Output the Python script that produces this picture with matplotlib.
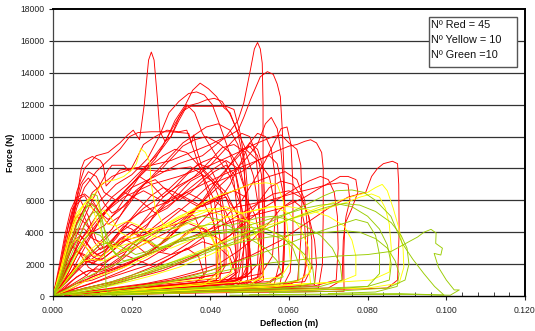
import numpy as np
import matplotlib
matplotlib.use("Agg")
import matplotlib.pyplot as plt
from matplotlib.patches import Rectangle

# ---- data: (deflection in mm, force in kN) ----
red01 = [(0,0),(2,1.5),(4,4),(6,6.5),(8,8),(11,8.8),(14,9),(17,9.6),(19,10.1),(20.4,10.4),(21.2,10.1),(22,9.8),(23.2,12),(24.3,14.8),(25,15.3),(25.7,14.8),(26.5,12.5),(27.2,10.3),(28.5,9.7),(30,10),(32,11.2),(34,12),(36,11.5),(38,10.2),(41,9),(45,7.5),(48,5.5),(50,3),(50.5,1),(47,0.6),(38,0.45),(25,0.3),(10,0.12)]
red02 = [(0,0),(3,2),(6,4.5),(10,6.5),(15,7.5),(20,8),(25,8.2),(30,8.5),(35,9),(40,9.5),(44,10),(47,11),(48.5,12.1),(50.2,14.2),(51.2,15.5),(52,15.9),(52.7,15.5),(53.2,14.6),(53.4,12),(53.4,6),(53.5,1),(50,0.6),(40,0.4),(25,0.25),(8,0.1)]
red03 = [(0,0),(4,1.5),(8,3.5),(14,5.5),(20,6.8),(26,7.5),(32,8.3),(38,8.8),(43,9.8),(47.1,10.4),(48.5,11.2),(50.2,12.3),(52.7,13.75),(54.5,14.07),(56,13.9),(57,13.3),(57.8,12.5),(58.3,10.4),(58.7,8),(59,5),(58.7,2),(57.5,0.5),(48,0.35),(30,0.2),(12,0.1)]
red04 = [(0,0),(3,1),(6,2.5),(10,4),(14,5.5),(18,6.5),(22,7.5),(26,8.6),(28.8,9.8),(31,11),(33.7,12),(35.5,12.9),(37.4,13.35),(39.5,13),(41.6,12.5),(43.5,11.8),(45,11.5),(47,10.2),(48.5,8.5),(49,6),(48.5,3),(47,1),(43,0.7),(30,0.45),(15,0.2),(4,0.05)]
red05 = [(0,0),(2,0.8),(5,2.5),(8,4.5),(12,6),(16,7),(20,7.6),(24,8.6),(27,10),(29.5,11.5),(32,12.2),(34.5,12.7),(36.5,12.8),(38.5,12.6),(40.5,12),(42,11),(44,9.6),(46,8.2),(47.5,6.5),(48,4),(47,1.5),(44,0.9),(35,0.6),(20,0.35),(6,0.1)]
red06 = [(0,0),(3,1.5),(7,3.5),(11,5),(15,6.2),(19,7),(23,8),(27,9),(30,10),(32,11),(34,11.9),(37,12.1),(39,12.3),(41,12.4),(43,12.2),(45,11.4),(47,10.3),(49,9.2),(52,8.5),(55,7.5),(57,5),(57.5,2),(56,0.5),(45,0.4),(28,0.25),(10,0.1)]
red07 = [(0,0),(4,1.2),(8,3),(12,4.8),(16,6),(20,7),(24,8.2),(28,9.5),(31,10.8),(33,11.6),(35,11.9),(40,11.9),(44,11.9),(46,11.7),(47.6,10.2),(49,8),(50,5),(49.5,2),(47,0.6),(36,0.45),(20,0.25),(6,0.1)]
red08 = [(0,0),(2,1.5),(4,3.5),(6,5.5),(8,6.8),(11,7.8),(14,8.5),(17,9.2),(19.5,10),(21.6,10.25),(25,10.3),(30,10.3),(34.5,10.2),(35.2,9.6),(35.8,10.1),(36.5,9.2),(38,8),(41,7.2),(44,6.5),(47,5),(49,3),(49.5,1),(46,0.6),(34,0.4),(18,0.2),(5,0.05)]
red09 = [(0,0),(2,1.5),(4,3.5),(6,6),(7.2,8),(8,8.5),(10,8.75),(12,8.5),(12.8,8.2),(13.2,7.5),(13.5,6.9),(15,7.3),(17,7.9),(20,8),(24,7.9),(28,7.8),(32,8),(35,8.1),(38,7.6),(41,6),(42.5,3.5),(42.5,1),(39,0.7),(28,0.5),(14,0.25),(3,0.05)]
red10 = [(0,0),(3,1.8),(6,3.8),(9,5.5),(12,7),(14,7.9),(15,8.2),(18,8.2),(19.5,7.8),(21,8.5),(23,9.5),(26,10),(29,10.4),(32,10.3),(34,10.4),(36,9),(38,7.5),(40,6),(41.5,3.5),(41.5,1),(37,0.6),(25,0.4),(10,0.15)]
red11 = [(0,0),(10,0.3),(20,0.6),(30,1),(40,1.6),(50,2.5),(58,3.5),(64,4.5),(70,5.5),(75,6.2),(79.5,6.5),(81,7.5),(82.5,8),(84,8.3),(86.3,8.45),(87.6,8.3),(87.9,7),(88,4),(87.6,1),(85,0.5),(70,0.4),(50,0.3),(25,0.15)]
red12 = [(0,0),(5,0.5),(10,1.2),(20,2.2),(30,3.2),(40,4.2),(50,5),(58,5.5),(64,6.2),(68,6.8),(71,7.2),(73,7.5),(75,7.5),(77,7.3),(77.5,6.5),(76,5.5),(74.2,4.5),(73.9,2.5),(74,0.3),(60,0.25),(40,0.2),(20,0.1)]
red13 = [(0,0),(3,0.8),(8,2),(15,3.2),(25,4),(35,4.8),(45,5.5),(55,6),(62,6.5),(67,6.8),(70,7),(73,7.1),(75,7),(75.5,6),(74.5,5),(73.8,3.5),(73.5,1),(70,0.5),(55,0.4),(35,0.3),(15,0.1)]
red14 = [(0,0),(4,1),(9,2.5),(15,4),(22,5.2),(30,6),(38,7),(45,7.8),(52,8.5),(57,9.1),(60,9.4),(62,9.5),(64,9.7),(65.5,9.8),(67,9.6),(68.3,9),(68.7,8),(68.7,5),(68.5,2),(67.5,0.5),(55,0.45),(35,0.3),(15,0.1)]
red15 = [(0,0),(3,1.5),(7,3.5),(12,5),(18,6.2),(25,7),(32,7.5),(40,8.2),(47,9),(52,9.6),(56,10),(58,10.1),(60,9.6),(62,9.2),(63,8.2),(63.3,6),(63,3.5),(62.2,1),(58,0.6),(45,0.5),(28,0.3),(10,0.1)]
red16 = [(0,0),(2,2),(4,4.5),(6,6),(8,6.3),(10,5.5),(12,5),(15,5.8),(18,6.5),(22,6),(26,5.2),(30,5.8),(34,6.5),(38,6),(41,4.5),(42,2.5),(41.5,0.8),(36,0.5),(25,0.35),(12,0.2)]
red17 = [(0,0),(1.5,1.5),(3,3.5),(5,5.5),(7,6),(9,5),(11,3.5),(13,3),(16,3.8),(20,4.5),(24,4),(28,4.8),(32,5.5),(36,5),(38.5,3.5),(39,1.5),(36,0.8),(26,0.6),(14,0.35),(4,0.1)]
red18 = [(0,0),(2,1),(4,2.2),(6,2.8),(8,2.5),(10,2),(13,2.6),(17,3.5),(21,4.2),(25,5),(29,5.5),(33,6.4),(37,7.2),(41,8),(44,8.5),(47,8),(49,6.5),(50,4),(49.5,1.5),(46,0.9),(36,0.7),(22,0.4),(8,0.15)]
red19 = [(0,0),(3,0.8),(6,1.8),(9,2.4),(12,3),(16,3.2),(20,3.8),(24,4.5),(28,5.6),(32,6.8),(36,7.5),(40,8.5),(43,9.3),(46,9.5),(49,9),(51,7.5),(52.5,5.2),(53,3),(52,1.2),(48,0.8),(38,0.6),(24,0.35),(10,0.12)]
red20 = [(0,0),(2,0.7),(5,1.6),(8,2.2),(11,2),(14,1.8),(17,2.3),(20,3.2),(24,4),(28,4.5),(32,5.3),(36,6.1),(40,7),(44,7.4),(48,7.8),(52,8.5),(55,8.8),(57,8.3),(58.5,6.5),(59,4),(58.5,1.5),(55,0.8),(44,0.6),(28,0.4),(10,0.15)]
red21 = [(0,0),(5,0.4),(10,0.8),(15,1.2),(20,1.6),(25,2),(30,2.6),(35,3.4),(40,4.2),(44,5),(48,6),(51,7.2),(54,8.5),(56,9.5),(58,10.5),(59.5,10.6),(60.5,9.5),(61,7),(61,4),(60.3,1.5),(58,0.4),(45,0.3),(25,0.2),(8,0.05)]
red22 = [(0,0),(6,0.5),(12,1),(18,1.6),(24,2.3),(30,3.2),(36,4.2),(41,5.5),(45,7),(48,8.5),(50,9.6),(52,10.2),(54,10),(55.5,9.2),(56.5,7.5),(56.5,5),(55.8,2.5),(53,1.4),(47,1.1),(36,0.8),(20,0.45),(6,0.1)]
red23 = [(0,0),(4,0.6),(8,1.2),(12,2),(16,2.5),(20,3),(25,3.8),(30,4.5),(35,5.2),(40,6),(45,6.5),(50,7),(55,7.5),(59,7.8),(62,7.3),(64,6),(64.8,4),(64.5,2),(63,0.6),(52,0.5),(35,0.35),(18,0.2)]
red24 = [(0,0),(2,1.2),(4,2.6),(6,3.5),(8,3.2),(10,2.5),(12,2.2),(15,2.8),(18,3.6),(21,3.2),(24,2.6),(27,3.2),(30,4),(34,4.6),(38,4.2),(42,3.6),(45,3),(46.5,2),(46.5,0.8),(42,0.5),(30,0.35),(15,0.2),(3,0.05)]
red25 = [(0,0),(1.5,1),(3,2.2),(5,3.1),(7,2.6),(9,1.8),(11,1.5),(14,1.9),(18,2.6),(22,2.2),(26,1.8),(30,2.4),(34,3),(37,2.5),(38.5,1.2),(35,0.7),(25,0.5),(12,0.25)]
red26 = [(0,0),(3,2.5),(5,5),(7,7),(9,7.8),(11,7.5),(13,6.5),(16,6),(19,6.8),(22,7.5),(25,7),(28,6.2),(31,6.8),(34,7.6),(37,8.3),(40,8),(42.5,6.8),(44,4.5),(44,2),(42,1.1),(34,0.9),(22,0.6),(8,0.2)]
red27 = [(0,0),(2,1.5),(4,3),(6,4.6),(8,5.5),(10,5.8),(12,5.2),(14,4.5),(17,5),(20,6),(23,7),(26,7.3),(29,6.6),(32,6),(35,6.5),(38,7.2),(41,7.8),(44,8.2),(46.5,7.5),(48,5.5),(48.5,3),(48,1),(44,0.5),(32,0.4),(16,0.2)]
red28 = [(0,0),(3,0.5),(6,1.2),(9,1.6),(12,1.5),(15,1.8),(18,2.4),(21,3),(25,3.5),(29,4),(33,4.8),(37,5.7),(41,6.6),(45,7.5),(49,8.6),(52,9.5),(54,10.8),(55.5,11.2),(57,10.5),(58,9),(58.8,6.5),(58.8,4),(58.3,1.5),(55,0.9),(44,0.75),(28,0.5),(12,0.2)]
red29 = [(0,0),(2,0.3),(6,0.8),(10,1),(14,1.4),(18,1.8),(22,2.4),(26,3),(30,3.8),(34,4.8),(38,6),(42,7.4),(45,8.2),(48,9),(50,9.6),(52,9.2),(53.5,8),(53.8,6),(53.5,3),(52.5,1),(48,0.5),(36,0.4),(20,0.25),(6,0.05)]
red30 = [(0,0),(2,2),(4,4),(6,5),(8,4.6),(10,4),(13,4.4),(16,5.3),(19,6.4),(22,7.5),(25,8.2),(28,8.8),(31,9.2),(34,9),(37,8.2),(40,7.3),(43,6.5),(46,5.5),(48.5,4.3),(50,3),(50.5,1.5),(47,1),(38,0.8),(24,0.5),(9,0.15)]
red31 = [(0,0),(1.5,0.8),(3,1.6),(5,2),(7,1.6),(9,1.2),(11,1.4),(13,2),(16,2.6),(19,3.2),(22,3.6),(25,3.3),(28,2.8),(31,3.3),(34,4),(37,4.4),(40,4),(41.5,3),(42,1.5),(39,0.9),(30,0.7),(18,0.4),(5,0.1)]
red32 = [(0,0),(4,0.3),(10,0.5),(16,0.8),(22,1.2),(28,1.6),(34,2.2),(40,3),(45,3.8),(49,4.8),(52,5.8),(55,6.8),(58,7.2),(61,7),(63,6.3),(65,5),(66.5,3.5),(67,2),(66.5,0.7),(55,0.55),(38,0.4),(20,0.2)]
red33 = [(0,0),(2,1.4),(4,3),(6,4.2),(8,4.2),(10,3.6),(12,3.4),(15,4.2),(18,5.4),(21,6.6),(24,7.2),(27,7.8),(30,8.6),(33,9.4),(36,9.8),(39,10),(42,9.6),(45,9),(47.5,8),(49,6.5),(50,4.5),(50,2.5),(49,1.2),(45,0.9),(35,0.7),(20,0.45),(6,0.1)]
red34 = [(0,0),(3,1.8),(5,3.4),(7,3.8),(9,3.2),(11,2.6),(13,2.8),(16,3.6),(19,4.6),(22,5.5),(25,6.3),(28,6.8),(31,6.5),(34,6),(37,5.6),(40,5.8),(43,6.3),(46,6.6),(49,6.2),(51.5,5),(53,3),(53.2,1.2),(50,0.7),(40,0.55),(26,0.35),(10,0.1)]
red35 = [(0,0),(5,0.3),(10,0.6),(15,0.9),(20,1.3),(25,1.8),(30,2.4),(35,3.1),(40,4),(44,4.6),(48,5.2),(52,5.8),(56,6.4),(60,6.6),(63,6.2),(65,5),(65.8,3.5),(65.8,1.8),(64,0.9),(55,0.7),(40,0.5),(22,0.3),(8,0.1)]
red36 = [(0,0),(1.5,1),(3,2.4),(4.5,3.6),(6,4),(8,3.5),(10,2.8),(12,2.5),(14,2.8),(17,3.6),(20,4),(23,3.6),(26,3),(29,3.5),(32,4.4),(35,5.2),(38,5.8),(41,6),(43.5,5.5),(45.5,4.5),(46.5,2.8),(46.5,1.2),(43,0.8),(33,0.6),(18,0.35),(5,0.08)]
red37 = [(0,0),(3,0.4),(7,0.9),(11,1.3),(15,1.6),(19,2),(23,2.5),(27,3.2),(31,4),(35,5),(39,6.2),(43,7.5),(46,8.6),(48,9.2),(50,9.4),(52,8.8),(53,7.6),(53.3,5.5),(53,3.2),(52.3,1.2),(48,0.6),(36,0.45),(20,0.25),(7,0.08)]
red38 = [(0,0),(2,1.6),(4,3.8),(6,5.8),(7.5,7),(9,7.4),(11,6.8),(13,5.8),(15,5.2),(18,5.6),(21,6.4),(24,7.2),(27,8),(30,8.8),(33,9.6),(36,10.1),(39,10.6),(42,10.8),(45,10.4),(47,9.5),(48.5,8),(49.3,6),(49.5,3.5),(49,1.2),(45,0.8),(34,0.6),(18,0.35),(5,0.1)]
red39 = [(0,0),(4,0.2),(8,0.5),(12,0.7),(16,0.9),(20,1.2),(25,1.5),(30,1.9),(35,2.4),(40,3),(45,3.8),(50,4.8),(54,5.6),(58,6.2),(62,6.8),(65,7.2),(68,7.5),(70,7.3),(71.5,6.5),(72.3,5),(72.5,3),(72,1),(66,0.6),(50,0.45),(30,0.3),(12,0.1)]
red40 = [(0,0),(2,0.8),(4,2),(6,2.8),(8,2.6),(10,2.2),(12,2.4),(14,3),(16,3.8),(18,4.4),(20,4.2),(22,3.8),(24,4.4),(26,5.2),(29,6),(32,6.4),(35,6),(38,5.6),(41,6),(44,6.2),(45.5,5.2),(46.5,3.5),(46.5,1.5),(43,1),(34,0.8),(20,0.5),(6,0.12)]
red41 = [(0,0),(6,0.2),(12,0.4),(18,0.6),(24,0.8),(30,1.1),(36,1.5),(42,2),(47,2.8),(51,3.6),(55,4.6),(58,5.5),(61,6),(63,5.6),(64,4.4),(64.3,3),(64,1.2),(60,0.7),(48,0.55),(30,0.35),(12,0.12)]
red42 = [(0,0),(1.5,1.8),(3,3.8),(4.5,5.4),(6,6.2),(8,6.4),(10,6),(12,5.2),(14,4.8),(17,5.4),(20,6.2),(23,6.6),(26,6.2),(29,5.8),(32,6.4),(35,7.2),(38,7.6),(40.5,7.2),(42.5,6),(43.5,4),(43.5,2),(41,1.3),(33,1),(20,0.6),(6,0.15)]
red43 = [(0,0),(2,0.6),(4,1.3),(6,1.9),(8,2.2),(10,2.1),(13,2.4),(16,3),(19,3.6),(22,4.4),(25,5.3),(28,6.2),(31,6.8),(34,7.2),(37,7.6),(40,8.2),(43,9),(46,9.8),(48,10.2),(50,10),(51.5,9),(52.3,7),(52.5,4.5),(52,2),(49,1.2),(40,0.9),(25,0.55),(9,0.15)]
red44 = [(0,0),(2,0.4),(5,1),(8,1.5),(11,1.7),(14,1.6),(18,1.9),(22,2.4),(26,2.8),(30,2.6),(34,2.9),(38,3.4),(42,3.1),(45,2.4),(46.5,1.4),(44,0.9),(34,0.7),(20,0.45),(6,0.1)]
red45 = [(0,0),(1.5,1.2),(3,2.8),(4.5,4.2),(6,5),(7.5,5.2),(9,4.4),(10.5,3.4),(12,2.9),(14,3.2),(17,4),(20,4.8),(23,5.5),(26,6),(29,6.6),(32,7.3),(35,7.9),(38,8.4),(41,8.7),(44,8.4),(46,7.2),(47,5),(47,2.5),(45,1.5),(38,1.2),(26,0.8),(12,0.35),(3,0.05)]

yellow01 = [(0,0),(2,1.5),(4,3.5),(6,5),(8,5.8),(10,6.2),(12.7,7.1),(14,7.2),(16,7.3),(18,7.5),(20,7.9),(21.2,8.3),(22.3,9.25),(23.5,9),(24.6,8.4),(25,7),(26,5.5),(28,4.5),(31,4.2),(35,4.6),(39,4.3),(41.5,3),(42,1.2),(38,0.7),(26,0.5),(12,0.2)]
yellow02 = [(0,0),(8,0.3),(16,0.7),(24,1.2),(32,1.8),(40,2.6),(48,3.5),(55,4.3),(62,5),(68,5.6),(73,6),(77,6.3),(80,6.5),(82,6.8),(83.7,7),(85,6.6),(86.5,5.5),(88,4.2),(89,3),(89.2,1.8),(88,0.8),(80,0.5),(60,0.35),(35,0.2),(12,0.05)]
yellow03 = [(0,0),(3,1.2),(6,2.6),(9,4),(11,5),(13,5.4),(15,4.8),(17,4),(20,3.6),(24,3.8),(28,4.4),(32,4.9),(36,5.2),(40,5.5),(44,5.4),(48,5.2),(52,5.4),(56,5.6),(60,5.2),(63,4.2),(65,3),(65.5,1.5),(62,0.9),(50,0.7),(32,0.45),(12,0.12)]
yellow04 = [(0,0),(2,1.8),(4,3.8),(6,5.2),(8,5.8),(10,5.5),(11.5,4.5),(13,3.5),(15,3),(18,3.2),(22,3.5),(26,3.2),(30,3),(34,3.4),(38,3.8),(42,3.6),(44.5,2.8),(45.5,1.5),(42,0.9),(30,0.6),(15,0.3)]
yellow05 = [(0,0),(4,0.4),(8,0.9),(12,1.3),(16,1.6),(20,2),(25,2.6),(30,3.3),(35,4),(40,4.6),(45,5),(50,5.3),(55,5.6),(60,5.6),(65,5.4),(70,5),(74,4.4),(76,3.5),(77,2.5),(77,1.3),(73,0.9),(60,0.7),(40,0.45),(18,0.15)]
yellow06 = [(0,0),(3,0.8),(6,1.8),(9,2.8),(12,3.4),(15,3.2),(18,2.8),(22,3.1),(26,3.8),(30,4.6),(34,5.2),(38,5.8),(42,6.3),(46,6.6),(50,7),(54,7.1),(57,7),(58.5,6),(59.5,4.5),(60.4,2.1),(58,1.2),(48,0.9),(30,0.55),(10,0.12)]
yellow07 = [(0,0),(1.5,1),(3,2.2),(4.5,3.2),(6,3.6),(8,3.2),(10,2.6),(12,2.4),(14,2.8),(17,3.4),(20,3.8),(24,4.2),(28,4.3),(32,4.6),(36,5),(40,5.4),(44,5.6),(48,5.2),(51,4.2),(53,2.8),(53.5,1.3),(50,0.7),(38,0.5),(20,0.3),(5,0.05)]
yellow08 = [(0,0),(6,0.3),(12,0.6),(18,1),(24,1.5),(30,2.1),(36,2.7),(42,3.3),(48,3.9),(54,4.4),(60,4.8),(66,5.2),(71,5.6),(75,5.9),(78,6.2),(81,6.4),(83,6.2),(84.5,5.5),(85.5,4.5),(86,3),(85.5,1.5),(81,1),(68,0.8),(48,0.55),(25,0.25),(8,0.05)]
yellow09 = [(0,0),(2,0.5),(4,1.2),(6,1.8),(8,2.2),(10,2.3),(13,2.2),(16,2.6),(20,3.2),(24,3.8),(28,4.4),(32,5),(36,5.4),(40,5.3),(44,5),(48,4.8),(52,4.5),(56,4),(60,3.5),(63,2.8),(65,1.8),(65.5,0.8),(55,0.55),(38,0.4),(18,0.2)]
yellow10 = [(0,0),(2,1.6),(4,3.4),(6,4.8),(8,5.8),(9.5,6.2),(11,6),(12.5,5),(14,4.5),(16,4.4),(19,4.7),(22,4.4),(25,3.8),(28,3.6),(31,3.8),(34,4),(37,4.1),(40,3.8),(42,3),(43,1.6),(40,1.1),(30,0.85),(16,0.45),(4,0.08)]

green01 = [(0,0),(8,0.2),(16,0.4),(24,0.7),(32,1),(40,1.4),(48,1.8),(56,2.1),(64,2.3),(72,2.5),(80,2.6),(86,2.8),(89.7,3.3),(92.7,3.7),(94.3,4),(96.1,4.18),(97.4,3.95),(97.3,3.3),(99,3),(98.6,2.57),(96.9,2.67),(98,1.8),(100,1),(102,0.38),(103.3,0.38),(101,0.05),(90,0.1),(70,0.08),(45,0.05)]
green02 = [(0,0),(6,0.3),(12,0.6),(18,1),(24,1.5),(30,2),(36,2.6),(42,3.2),(48,3.8),(54,4.5),(60,5.2),(65,5.8),(69,6.3),(72,6.6),(76,6.65),(79,6.5),(82,6),(85.9,5),(88.8,3.3),(91.5,2.3),(94.3,1.4),(97,0.6),(99.4,0.06),(88,0.15),(70,0.12),(50,0.08)]
green03 = [(0,0),(2,1.2),(4,2.6),(6,4),(8,5.3),(10,6.4),(11.2,6.3),(12,5.5),(13,4.2),(14,3.2),(16,2.6),(19,3),(22,3.6),(26,4),(30,4.2),(34,4.6),(38,5),(42,4.8),(46,4.2),(50,3.6),(54,3),(57,2.2),(58.5,1.2),(54,0.8),(42,0.6),(25,0.35),(8,0.08)]
green04 = [(0,0),(2,1),(4,2.2),(6,3.4),(8,4.4),(10,5.2),(11,5.3),(12,4.8),(12.8,3.5),(13.3,2),(13.5,0.5),(14,0.2),(20,0.4),(28,0.8),(36,1.3),(44,1.9),(52,2.6),(60,3.3),(66,3.9),(72,4.4),(77,4.8),(80,4.6),(82,3.8),(83,2.6),(83,1.4),(80,0.6),(66,0.35),(45,0.2)]
green05 = [(0,0),(3,0.8),(6,1.7),(9,2.6),(12,3.2),(15,3.4),(18,3),(21,2.6),(24,2.8),(28,3.4),(32,3.9),(36,4.3),(40,4.5),(44,4.4),(48,4.6),(52,4.9),(56,5),(60,4.8),(64,4.4),(68,3.8),(71,3),(73,2),(73.5,1),(68,0.6),(52,0.45),(30,0.25),(10,0.05)]
green06 = [(0,0),(4,0.5),(8,1.1),(12,1.6),(16,2),(20,2.3),(24,2.6),(28,3),(32,3.4),(36,3.6),(40,3.8),(44,4),(48,4.3),(52,4.6),(56,4.9),(60,5.2),(64,5.5),(68,5.7),(72,5.8),(76,5.6),(80,5),(83,4.2),(85,3.2),(86,2),(85.5,1),(80,0.6),(64,0.45),(40,0.25),(15,0.05)]
green07 = [(0,0),(6,0.2),(12,0.5),(18,0.9),(24,1.4),(30,1.9),(36,2.4),(42,3),(48,3.6),(54,4.2),(60,4.8),(66,5.3),(70,5.6),(74,5.8),(78,5.7),(82,5.3),(86,4.6),(88.5,3.8),(90,3),(90.5,2),(89.5,1),(85,0.5),(72,0.3),(55,0.2)]
green08 = [(0,0),(2,0.8),(4,1.8),(6,2.8),(8,3.6),(10,4),(12,3.8),(14,3.2),(16,2.6),(18,2.2),(21,2.4),(25,2.8),(29,3.2),(33,3.6),(37,3.8),(41,3.9),(45,4),(49,4.1),(53,4),(57,3.7),(61,3.3),(64,2.6),(66,1.8),(66.5,0.8),(60,0.5),(45,0.35),(25,0.2)]
green09 = [(0,0),(5,0.3),(10,0.6),(15,0.9),(20,1.3),(25,1.7),(30,2.1),(35,2.5),(40,2.9),(45,3.2),(50,3.5),(55,3.7),(60,3.8),(65,3.9),(70,4),(74,4.1),(78,4),(82,3.6),(85,3),(87,2.2),(88,1.4),(87.5,0.6),(82,0.25),(70,0.15)]
green10 = [(0,0),(2,1.4),(4,3),(6,4.4),(8,5.4),(9.5,5.8),(11,5.5),(12.5,4.6),(14,3.6),(15.5,2.8),(17,2.4),(19,2.6),(21,3.2),(23,3.6),(25,3.4),(27,3),(30,3.2),(34,3.6),(38,3.9),(42,4.1),(46,4.2),(50,4.3),(54,4.2),(58,3.8),(61,3),(62.5,2),(62.5,1),(56,0.7),(40,0.5),(20,0.25),(5,0.05)]

red_series = [red01, red02, red03, red04, red05, red06, red07, red08, red09, red10,
              red11, red12, red13, red14, red15, red16, red17, red18, red19, red20,
              red21, red22, red23, red24, red25, red26, red27, red28, red29, red30,
              red31, red32, red33, red34, red35, red36, red37, red38, red39, red40,
              red41, red42, red43, red44, red45]
yellow_series = [yellow01, yellow02, yellow03, yellow04, yellow05,
                 yellow06, yellow07, yellow08, yellow09, yellow10]
green_series = [green01, green02, green03, green04, green05,
                green06, green07, green08, green09, green10]

x_ticks = [0.0, 0.02, 0.04, 0.06, 0.08, 0.10, 0.12]
x_tick_labels = ["0.000", "0.020", "0.040", "0.060", "0.080", "0.100", "0.120"]
y_ticks = [0, 2000, 4000, 6000, 8000, 10000, 12000, 14000, 16000, 18000]
legend_lines = ["Nº Red = 45", "Nº Yellow = 10", "Nº Green =10"]

MM = 1e-3
KN = 1e3

plt.rcParams['font.family'] = ['Liberation Sans', 'DejaVu Sans']
fig = plt.figure(figsize=(5.35, 3.31), dpi=100)
ax = fig.add_axes([53/535, 35/331, 472/535, 287/331])

for curve, col in ([(c, '#FF0000') for c in red_series] +
                   [(c, '#FFFF00') for c in yellow_series] +
                   [(c, '#99CC00') for c in green_series]):
    arr = np.array(curve, dtype=float)
    ax.plot(arr[:, 0] * MM, arr[:, 1] * KN, color=col, lw=0.65, solid_joinstyle='round')

ax.set_xlim(0, 0.12)
ax.set_ylim(0, 18000)
ax.set_xticks(x_ticks)
ax.set_xticklabels(x_tick_labels)
ax.set_xticks(np.arange(0, 0.1201, 0.004), minor=True)
ax.set_yticks(y_ticks)
ax.set_yticklabels([str(v) for v in y_ticks])
ax.tick_params(axis='x', which='major', direction='out', length=3, width=0.8, labelsize=6.2, pad=4, colors='#222222')
ax.tick_params(axis='x', which='minor', direction='in', length=3, width=0.6, colors='#222222')
ax.tick_params(axis='y', which='major', direction='out', length=3, width=0.8, labelsize=6.2, pad=3, colors='#222222')
for v in y_ticks[1:-1]:
    ax.axhline(v, color='#333333', lw=0.9, zorder=0.5)
for s in ['top', 'right']:
    ax.spines[s].set_linewidth(1.4)
    ax.spines[s].set_color('black')
ax.spines['bottom'].set_linewidth(1.0)
ax.spines['left'].set_linewidth(0.9)
ax.spines['left'].set_color('#444444')

ax.set_xlabel("Deflection (m)", fontsize=6.2, fontweight='bold', labelpad=3)
ax.set_ylabel("Force (N)", fontsize=6.2, fontweight='bold', labelpad=4)

# annotation box
box = Rectangle((429/535, 1 - 67/331), 88/535, 50/331, transform=fig.transFigure,
                facecolor='white', edgecolor='#555555', lw=1.0, zorder=5)
fig.patches.append(box)
for i, t in enumerate(legend_lines):
    fig.text(431/535, 1 - (25 + i * 15) / 331, t, fontsize=7.8, va='center', ha='left', color='#111111', zorder=6)

fig.savefig("out.png", dpi=100)
